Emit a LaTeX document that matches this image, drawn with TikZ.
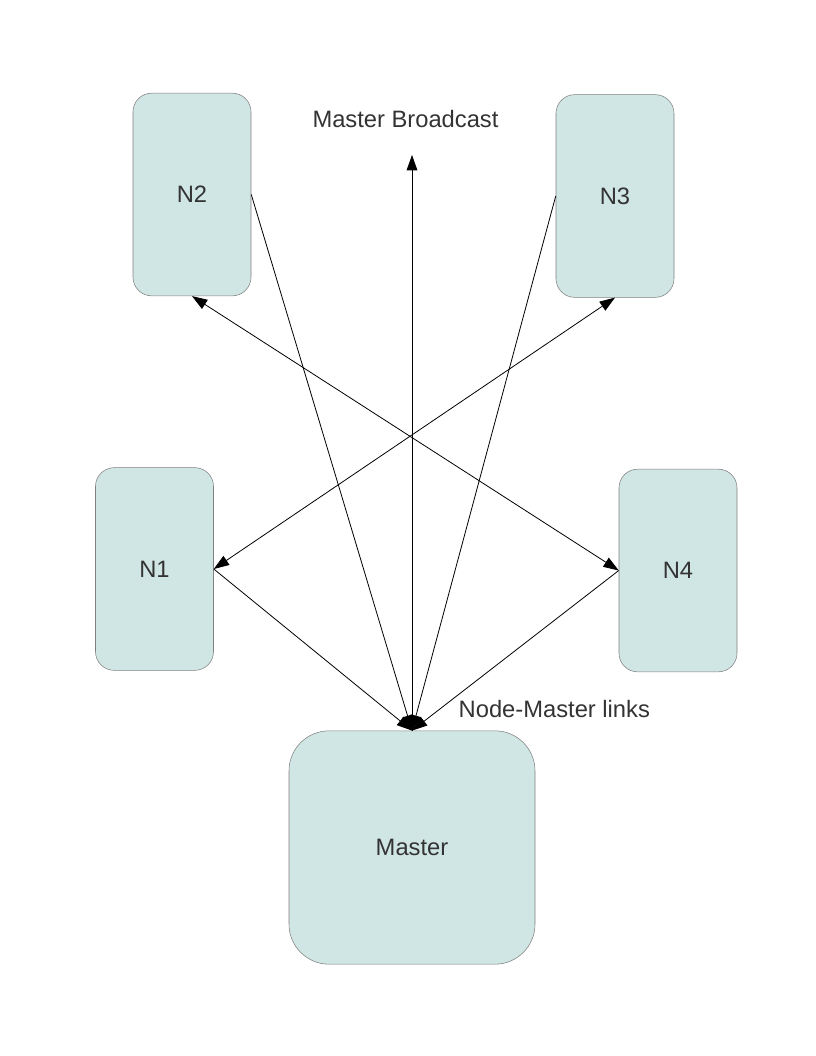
\documentclass[tikz,border=0pt]{standalone}
\usepackage{fontspec}
\setmainfont{Liberation Sans}
\usetikzlibrary{arrows.meta}
\definecolor{boxfill}{RGB}{208,230,228}
\definecolor{boxline}{RGB}{128,128,128}
\definecolor{txt}{RGB}{51,51,51}

\begin{document}
\begin{tikzpicture}[x=0.75pt, y=-0.75pt,
    every node/.style={font=\fontsize{17.8}{20}\selectfont, text=txt},
    nodebox/.style={draw=boxline, fill=boxfill, rounded corners=14pt, minimum width=88.5pt, minimum height=152pt},
    masterbox/.style={draw=boxline, fill=boxfill, rounded corners=30pt, minimum width=184.5pt, minimum height=175pt},
    link/.style={line width=0.6pt, -{Triangle[length=11.5pt, width=8pt]}},
    both/.style={line width=0.6pt, {Triangle[length=11.5pt, width=8pt]}-{Triangle[length=11.5pt, width=8pt]}}]
    \useasboundingbox (0, 0) rectangle (816, 1056);
    \node[nodebox] (n2) at (192, 194.5) {N2};
    \node[nodebox] (n3) at (615, 196) {N3};
    \node[nodebox] (n1) at (154.5, 569) {N1};
    \node[nodebox] (n4) at (678, 570.5) {N4};
    \node[masterbox] (master) at (412, 847.5) {Master};
    \node (bcast) at (405.5, 119) {Master Broadcast};
    \node[anchor=west] (links) at (454, 709) {Node-Master links};
    \coordinate (top) at (412, 155);
    \draw[link] (master.north) -- (top);
    \draw[link] (n1.east) -- (master.north);
    \draw[link] (n2.east) -- (master.north);
    \draw[link] (n3.west) -- (master.north);
    \draw[link] (n4.west) -- (master.north);
    \draw[both] (n2.south) -- (n4.west);
    \draw[both] (n3.south) -- (n1.east);
  \end{tikzpicture}
\end{document}
